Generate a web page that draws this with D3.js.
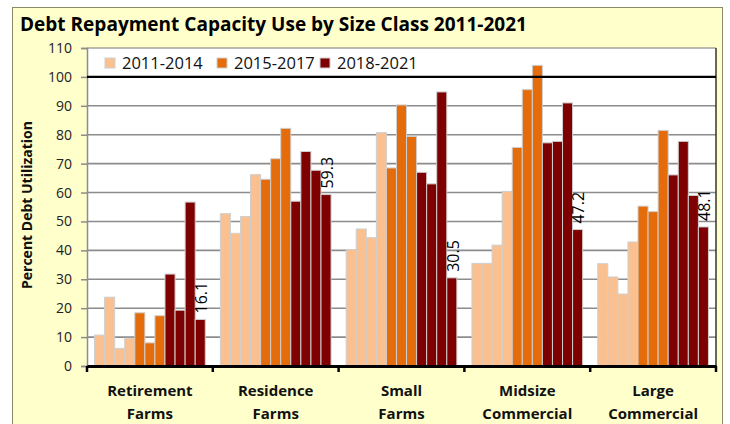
<!DOCTYPE html>
<html>
<head>
<meta charset="utf-8">
<title>Debt Repayment Capacity Use by Size Class</title>
<script src="https://d3js.org/d3.v7.min.js"></script>
<style>
	html, body { margin: 0; padding: 0; background: #fff; overflow: hidden; }
	svg { display: block; font-family: "Open Sans", "Noto Sans", sans-serif; }
</style>
</head>
<body>
<svg id="chart" width="730" height="424"></svg>
<script>
// categories (two-line labels) and yearly values 2011..2021
const categories = ["Retirement Farms", "Residence Farms", "Small Farms", "Midsize Commercial", "Large Commercial"];
const catLines = [["Retirement", "Farms"], ["Residence", "Farms"], ["Small", "Farms"], ["Midsize", "Commercial"], ["Large", "Commercial"]];
const years = [2011, 2012, 2013, 2014, 2015, 2016, 2017, 2018, 2019, 2020, 2021];
const retirement = [10.7, 23.8, 6.1, 9.6, 18.4, 8.0, 17.4, 31.8, 19.3, 56.7, 16.1];
const residence  = [52.7, 45.9, 51.7, 66.2, 64.6, 71.7, 82.2, 57.0, 74.2, 67.7, 59.3];
const small      = [40.3, 47.4, 44.4, 80.7, 68.5, 90.3, 79.4, 67.0, 63.0, 94.8, 30.5];
const midsize    = [35.5, 35.5, 41.8, 60.4, 75.6, 95.6, 104.0, 77.2, 77.7, 91.0, 47.2];
const large      = [35.4, 30.8, 24.9, 42.9, 55.3, 53.4, 81.5, 66.1, 77.7, 59.0, 48.1];
const periods = ["2011-2014", "2015-2017", "2018-2021"];
const yTicks = [0, 10, 20, 30, 40, 50, 60, 70, 80, 90, 100, 110];

const seriesByCat = [retirement, residence, small, midsize, large];
const periodOf = y => y <= 2014 ? 0 : (y <= 2017 ? 1 : 2);
const colors = ["#FAC090", "#E46C0A", "#7F0000"];

const svg = d3.select("#chart");
const margin = {top: 48, right: 14, bottom: 58, left: 87};
const W = 730, H = 424;
const pw = 716 - margin.left, ph = 366 - margin.top;

// outer background
svg.append("rect").attr("x", 12.5).attr("y", 7.5).attr("width", W - 20).attr("height", H)
	.attr("fill", "#FFFFCC").attr("stroke", "#8a8a6a").attr("stroke-width", 1);

svg.append("text").attr("x", 20).attr("y", 31)
	.attr("font-size", 19.5).attr("font-weight", "bold").attr("fill", "#000")
	.attr("textLength", 507).attr("lengthAdjust", "spacingAndGlyphs")
	.text("Debt Repayment Capacity Use by Size Class 2011-2021");

const g = svg.append("g").attr("transform", `translate(${margin.left},${margin.top})`);

const x = d3.scaleBand().domain(categories).range([0, pw]).padding(0);
const xi = d3.scaleBand().domain(years).range([0, x.bandwidth()]).paddingInner(0).paddingOuter(0.75);
const y = d3.scaleLinear().domain([0, 110]).range([ph, 0]);

// plot area
g.append("rect").attr("width", pw).attr("height", ph).attr("fill", "#fff");

// gridlines
g.selectAll(".grid").data(yTicks.filter(t => t > 0 && t !== 100)).enter().append("line")
	.attr("x1", 0).attr("x2", pw)
	.attr("y1", d => y(d)).attr("y2", d => y(d))
	.attr("stroke", d => d === 110 ? "#777" : "#8c8c8c").attr("stroke-width", d => d === 110 ? 1 : 1.6);

// y axis
const yAxis = g.append("g").call(d3.axisLeft(y).tickValues(yTicks).tickSize(6).tickPadding(9));
yAxis.select(".domain").attr("stroke", "#8c8c8c").attr("stroke-width", 1.5);
yAxis.selectAll(".tick line").attr("stroke", "#8c8c8c").attr("stroke-width", 1.5);
yAxis.selectAll(".tick text").attr("font-size", 14).attr("fill", "#222")
	.attr("font-family", "'Open Sans', sans-serif");

// right border
g.append("line").attr("x1", pw).attr("x2", pw).attr("y1", 0).attr("y2", ph)
	.attr("stroke", "#333").attr("stroke-width", 1.5);

// bars
const groups = g.selectAll(".cat").data(categories).enter().append("g")
	.attr("transform", d => `translate(${x(d)},0)`);

groups.selectAll("rect").data((d, i) => seriesByCat[i].map((v, j) => ({year: years[j], v}))).enter()
	.append("rect")
	.attr("x", d => xi(d.year))
	.attr("y", d => y(d.v))
	.attr("width", xi.bandwidth())
	.attr("height", d => ph - y(d.v))
	.attr("fill", d => colors[periodOf(d.year)])
	.attr("stroke", "#cfcfcf").attr("stroke-width", 1);

// 100 line
g.append("line").attr("x1", 0).attr("x2", pw).attr("y1", y(100)).attr("y2", y(100))
	.attr("stroke", "#000").attr("stroke-width", 2.2);

// value labels on the last bar
groups.append("text")
	.attr("transform", (d, i) => {
		const last = seriesByCat[i][years.length - 1];
		const cx = xi(2021) + xi.bandwidth() / 2 + 1;
		return `translate(${cx},${y(last) - 6}) rotate(-90)`;
	})
	.attr("dy", "0.36em")
	.attr("font-size", 16).attr("fill", "#000")
	.text((d, i) => seriesByCat[i][years.length - 1].toFixed(1));

// x axis
const xAxis = g.append("g").attr("transform", `translate(0,${ph})`)
	.call(d3.axisBottom(x).tickSize(0).tickFormat(""));
xAxis.select(".domain").attr("stroke", "#000").attr("stroke-width", 3);
g.append("g").selectAll("line").data(categories.concat(["end"])).enter().append("line")
	.attr("x1", (d, i) => i < categories.length ? x(d) : pw)
	.attr("x2", (d, i) => i < categories.length ? x(d) : pw)
	.attr("y1", ph).attr("y2", ph + 6)
	.attr("stroke", "#000").attr("stroke-width", 2.5);

groups.append("text")
	.attr("text-anchor", "middle")
	.attr("font-size", 15).attr("font-weight", "bold").attr("fill", "#111")
	.selectAll("tspan").data((d, i) => catLines[i]).enter().append("tspan")
	.attr("x", x.bandwidth() / 2)
	.attr("y", (d, i) => ph + 30 + i * 23)
	.text(d => d);

// y title
svg.append("text")
	.attr("transform", "translate(32,205) rotate(-90)")
	.attr("text-anchor", "middle")
	.attr("font-size", 14).attr("font-weight", "bold").attr("fill", "#111")
	.text("Percent Debt Utilization");

// legend
const legend = g.append("g").attr("transform", "translate(18,10)");
const lx = [0, 112, 215];
periods.forEach((p, i) => {
	const item = legend.append("g").attr("transform", `translate(${lx[i]},0)`);
	item.append("rect").attr("x", 0).attr("y", 0).attr("width", 10).attr("height", 10)
		.attr("fill", colors[i]).attr("stroke", "#cfcfcf");
	item.append("text").attr("x", 17).attr("y", 5).attr("dy", "0.36em")
		.attr("font-size", 16.5).attr("fill", "#111")
		.text(p);
});
</script>
</body>
</html>
